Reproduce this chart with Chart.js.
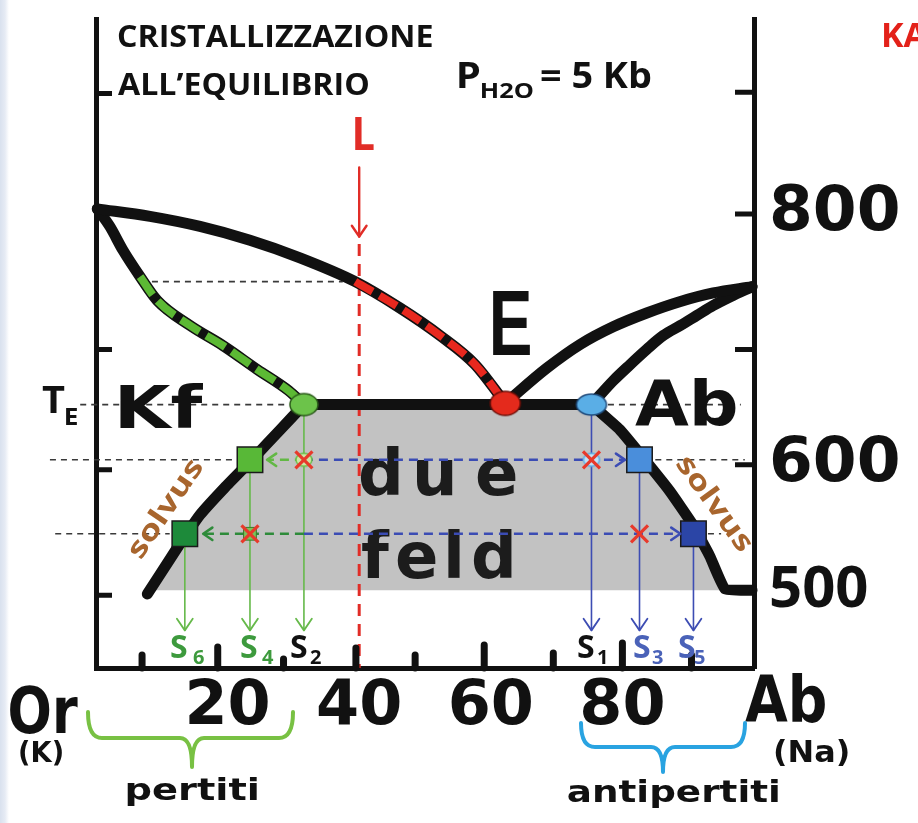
<!DOCTYPE html>
<html lang="it">
<head>
<meta charset="utf-8">
<title>Cristallizzazione all'equilibrio</title>
<script src="https://cdn.jsdelivr.net/npm/chart.js@4.4.1/dist/chart.umd.min.js"></script>
<style>
  html, body { margin: 0; padding: 0; }
  body { width: 918px; height: 823px; overflow: hidden;
         background: linear-gradient(to right, #d9e1ee 0, #e6ebf4 5px, #ffffff 9px); }
  canvas { display: block; }
</style>
</head>
<body>
<canvas id="grafico" width="918" height="823"></canvas>
<script>

const xTicks = [20, 40, 60, 80];
const yTicks = [500, 600, 800];
const leftTicksT = [896, 692, 596, 496];
const rightTicksT = [897, 800, 692, 600, 500];
const bottomTicksX = [7, 18.5, 28.5, 39.5, 48.5, 59, 69.5, 80, 90.5];

// liquidus e solidus
const liqLeftX = [0.2, 8.2, 15.8, 23.4, 31.0, 39.4, 46.2, 52.3, 57.6, 62.2];
const liqLeftT = [804, 798, 790, 779, 765, 746, 725, 703, 680, 649];
const solLeftX = [0.2, 2.1, 4.1, 6.7, 9.3, 14.3, 19.3, 24.5, 29.3, 31.6];
const solLeftT = [804, 790, 771, 750, 731, 711, 695, 676, 659, 648];
const liqRightX = [62.2, 68.5, 73.6, 78.6, 83.7, 88.7, 93.8, 99.7];
const liqRightT = [649, 677, 696, 710, 721, 730, 737, 742];
const solRightX = [75.3, 78.6, 81.2, 83.7, 86.2, 88.8, 91.3, 93.8, 96.4, 99.7];
const solRightT = [648, 667, 680, 692, 703, 711, 719, 727, 734, 742];

// solvus
const solvusLeftX = [31.6, 28.0, 23.9, 19.6, 15.8, 12.0, 7.8];
const solvusLeftT = [648, 628, 605, 582, 560, 531, 497];
const solvusRightX = [75.3, 79.6, 83.4, 87.2, 90.6, 93.3, 95.6, 99.7];
const solvusRightT = [648, 628, 604, 579, 553, 527, 501, 500];

const TE = 648;            // eutettico
const T1 = 604, T2 = 545;  // isoterme
const TL = 746;            // L incontra il liquidus
const xL = 40;
const lineTopT = 776;
const lArrowT = [837, 782];
const floorT = 500;

// S1..S6
const sNames = ['S1', 'S2', 'S3', 'S4', 'S5', 'S6'];
const sX = [75.3, 31.6, 82.6, 23.4, 90.8, 13.5];
const sT = [TE, TE, T1, T1, T2, T2];
const sEndT = 468;
const eX = 62.2, eT = 649;

// frecce orizzontali (partono da S2)
const tipT1 = [26.0, 80.4];
const tipT2 = [16.3, 88.8];

// tratteggi neri
const guideX0 = [8.5, -2.4, 77.8, -7.0, 85.0, -6.2, 93.0];
const guideX1 = [37.5, 29.0, 98.0, 20.8, 98.6, 11.2, 95.0];
const guideT = [TL, TE, TE, T1, T1, T2, T2];

const nero = '#111111';
const rosso = '#e12d27';
const grigio = '#c2c2c2';
const verde = '#66b94a';
const blu = '#3d4db3';

function pts(xs, ts) { return xs.map((x, i) => ({ x: x, y: ts[i] })); }
function atT(xs, ts, t) {
  for (let i = 1; i < ts.length; i++) {
    if ((ts[i - 1] - t) * (ts[i] - t) <= 0) {
      const f = (t - ts[i - 1]) / (ts[i] - ts[i - 1]);
      return xs[i - 1] + f * (xs[i] - xs[i - 1]);
    }
  }
  return xs[xs.length - 1];
}

function linea(data, color, width, extra) {
  return Object.assign({
    data: data, showLine: true, borderColor: color, backgroundColor: color,
    borderWidth: width, pointRadius: 0, tension: 0, clip: false, fill: false,
    borderCapStyle: 'round', borderJoinStyle: 'round'
  }, extra || {});
}

function ovale(w, h, fill, stroke) {
  const c = document.createElement('canvas');
  c.width = w + 4; c.height = h + 4;
  const g = c.getContext('2d');
  g.beginPath();
  g.ellipse(c.width / 2, c.height / 2, w / 2, h / 2, 0, 0, 2 * Math.PI);
  g.fillStyle = fill; g.fill();
  g.lineWidth = 1.5; g.strokeStyle = stroke; g.stroke();
  return c;
}

// campo dei due feldspati (grigio)
const campo = pts(solvusLeftX, solvusLeftT).filter(p => p.y > floorT)
  .concat([{ x: atT(solvusLeftX, solvusLeftT, floorT), y: floorT },
           { x: atT(solvusRightX, solvusRightT, floorT + 1), y: floorT }])
  .concat(pts(solvusRightX, solvusRightT).filter(p => p.y > floorT + 0.5).reverse());

const datasets = [];
datasets.push(linea(campo, grigio, 0, { fill: 'shape', backgroundColor: grigio, order: 20, campo: true }));

guideT.forEach((t, i) => {
  datasets.push(linea([{ x: guideX0[i], y: t }, { x: guideX1[i], y: t }], '#3a3a3a', 1.6,
    { borderDash: [6, 5], borderCapStyle: 'butt', order: 15 }));
});

datasets.push(linea([{ x: xL, y: lineTopT }, { x: xL, y: 438 }], rosso, 3,
  { borderDash: [12, 8], borderCapStyle: 'butt', order: 14 }));

// curve nere spesse
const liscia = { cubicInterpolationMode: 'monotone', order: 12 };
[[liqLeftX, liqLeftT], [solLeftX, solLeftT], [liqRightX, liqRightT], [solRightX, solRightT]].forEach(c => {
  datasets.push(linea(pts(c[0], c[1]), nero, 11, liscia));
});
[[solvusLeftX, solvusLeftT], [solvusRightX, solvusRightT]].forEach(c => {
  datasets.push(linea(pts(c[0], c[1]), nero, 11, { tension: 0.12, order: 12 }));
});
datasets.push(linea([{ x: sX[1], y: TE }, { x: sX[0], y: TE }], nero, 11, { order: 12 }));

// tratti colorati sulle curve
datasets.push(linea(pts(solLeftX, solLeftT).slice(3), '#5cb934', 8,
  { cubicInterpolationMode: 'monotone', borderDash: [22, 8], borderCapStyle: 'butt', order: 11 }));
datasets.push(linea(pts(liqLeftX, liqLeftT).slice(5), '#e8281e', 8,
  { cubicInterpolationMode: 'monotone', borderDash: [20, 8], borderCapStyle: 'butt', order: 11 }));

// frecce verticali verso S1..S6
sX.forEach((x, i) => {
  const col = x < 50 ? verde : blu;
  datasets.push(linea([{ x: x, y: sT[i] }, { x: x, y: sEndT }], col, 1.6, { order: 9, freccia: 14 }));
});

// frecce orizzontali tratteggiate
datasets.push(linea([{ x: sX[1], y: T1 }, { x: tipT1[0], y: T1 }], '#62b844', 2.6, { borderDash: [9, 6], borderCapStyle: 'butt', order: 8, freccia: 11 }));
datasets.push(linea([{ x: sX[1], y: T1 }, { x: tipT1[1], y: T1 }], '#3b4cb4', 2.6, { borderDash: [9, 6], borderCapStyle: 'butt', order: 8, freccia: 11 }));
datasets.push(linea([{ x: sX[1], y: T2 }, { x: tipT2[0], y: T2 }], '#2e8b3a', 2.6, { borderDash: [9, 6], borderCapStyle: 'butt', order: 8, freccia: 11 }));
datasets.push(linea([{ x: sX[1], y: T2 }, { x: tipT2[1], y: T2 }], '#3b4cb4', 2.6, { borderDash: [9, 6], borderCapStyle: 'butt', order: 8, freccia: 11 }));

// freccia rossa di L
datasets.push(linea(pts([xL, xL], lArrowT), rosso, 2.4, { order: 7, freccia: 13 }));

// punti "fantasma" dietro alle X
datasets.push({ data: [{ x: sX[1], y: T1 }, { x: sX[0], y: T1 }, { x: sX[3], y: T2 }], showLine: false, clip: false, order: 5,
  pointStyle: [ovale(16, 13, '#cfe5a6', '#6cbf4a'), ovale(16, 13, '#c4e2f6', '#5aaee6'), 'rect'],
  pointRadius: [8, 8, 9], backgroundColor: '#7cc25a', borderColor: '#3c7a2a', borderWidth: 1 });

// simboli principali
datasets.push({ data: [{ x: sX[1], y: TE }, { x: eX, y: eT }, { x: sX[0], y: TE }], showLine: false, clip: false, order: 4,
  pointStyle: [ovale(28, 22, '#6cc34a', '#2b5a1a'), ovale(30, 24, '#e42a1c', '#6a0e08'), ovale(30, 21, '#5aaee6', '#1f4a7a')],
  pointRadius: 12 });
datasets.push({ data: [{ x: sX[3], y: T1 }, { x: sX[5], y: T2 }, { x: sX[2], y: T1 }, { x: sX[4], y: T2 }], showLine: false, clip: false, order: 4,
  pointStyle: 'rect', pointRadius: 18,
  backgroundColor: ['#58b837', '#1d8a3a', '#4a8edb', '#2b45a6'], borderColor: '#1a1a1a', borderWidth: 1.5 });

// X rosse
datasets.push({ data: [{ x: sX[1], y: T1 }, { x: sX[3], y: T2 }, { x: sX[0], y: T1 }, { x: sX[2], y: T2 }], showLine: false, clip: false, order: 3,
  pointStyle: 'crossRot', pointRadius: 12, borderColor: '#e8392b', borderWidth: 3.2 });

// ---- disegno testi ----
function fit(ctx, s, x0, x1, base, font, color) {
  ctx.save();
  ctx.font = font; ctx.fillStyle = color; ctx.textAlign = 'left'; ctx.textBaseline = 'alphabetic';
  const m = ctx.measureText(s);
  const w = m.actualBoundingBoxLeft + m.actualBoundingBoxRight;
  const k = (x1 - x0) / w;
  ctx.translate(x0 + m.actualBoundingBoxLeft * k, base);
  ctx.scale(k, 1);
  ctx.fillText(s, 0, 0);
  ctx.restore();
}
function ruotato(ctx, s, cx, cy, ang, len, font, color) {
  ctx.save();
  ctx.font = font; ctx.fillStyle = color; ctx.textAlign = 'center'; ctx.textBaseline = 'middle';
  const k = len / ctx.measureText(s).width;
  ctx.translate(cx, cy); ctx.rotate(ang * Math.PI / 180); ctx.scale(k, 1);
  ctx.fillText(s, 0, 0);
  ctx.restore();
}
function spaziato(ctx, s, xs, base, font, color) {
  ctx.save();
  ctx.font = font; ctx.fillStyle = color; ctx.textBaseline = 'alphabetic';
  s.split('').forEach((ch, i) => {
    const m = ctx.measureText(ch);
    ctx.fillText(ch, xs[i] + m.actualBoundingBoxLeft, base);
  });
  ctx.restore();
}
function graffa(ctx, x0, x1, xm, yTop, yLine, yTip, color) {
  ctx.save();
  ctx.strokeStyle = color; ctx.lineWidth = 4; ctx.lineCap = 'round'; ctx.lineJoin = 'round';
  ctx.beginPath();
  ctx.moveTo(x0, yTop);
  ctx.quadraticCurveTo(x0, yLine, x0 + 14, yLine);
  ctx.lineTo(xm - 12, yLine);
  ctx.quadraticCurveTo(xm, yLine, xm, yTip);
  ctx.quadraticCurveTo(xm, yLine, xm + 12, yLine);
  ctx.lineTo(x1 - 14, yLine);
  ctx.quadraticCurveTo(x1, yLine, x1, yTop);
  ctx.stroke();
  ctx.restore();
}

const frecce = {
  id: 'frecce',
  afterDatasetsDraw(chart) {
    const ctx = chart.ctx;
    chart.data.datasets.forEach((ds, i) => {
      if (!ds.freccia) return;
      const p = chart.getDatasetMeta(i).data;
      const a = p[p.length - 1], b = p[p.length - 2];
      const ang = Math.atan2(a.y - b.y, a.x - b.x);
      ctx.save();
      ctx.strokeStyle = ds.borderColor; ctx.lineWidth = Math.max(ds.borderWidth, 1.8);
      ctx.setLineDash([]); ctx.lineCap = 'round';
      ctx.beginPath();
      [-1, 1].forEach(sg => {
        ctx.moveTo(a.x, a.y);
        ctx.lineTo(a.x - ds.freccia * Math.cos(ang + sg * 0.6), a.y - ds.freccia * Math.sin(ang + sg * 0.6));
      });
      ctx.stroke();
      ctx.restore();
    });
  }
};

const bottomTicksH = [13, 21, 9, 20, 13, 23, 15, 25, 13];
const tacche = {
  id: 'tacche',
  afterDraw(chart) {
    const { ctx, chartArea: a, scales: { x, y } } = chart;
    ctx.save();
    ctx.strokeStyle = nero; ctx.lineWidth = 5; ctx.lineCap = 'butt';
    ctx.beginPath();
    leftTicksT.forEach(t => { const py = y.getPixelForValue(t); ctx.moveTo(a.left, py); ctx.lineTo(a.left + 16, py); });
    rightTicksT.forEach(t => { const py = y.getPixelForValue(t); ctx.moveTo(a.right, py); ctx.lineTo(a.right - 19, py); });
    ctx.stroke();
    ctx.lineWidth = 7; ctx.lineCap = 'round';
    ctx.beginPath();
    bottomTicksX.forEach((v, i) => { const px = x.getPixelForValue(v); ctx.moveTo(px, a.bottom); ctx.lineTo(px, a.bottom - bottomTicksH[i]); });
    ctx.stroke();
    ctx.restore();
  }
};

const testi = {
  id: 'testi',
  afterDatasetDraw(chart, args) {
    if (!chart.data.datasets[args.index].campo) return;
    const ctx = chart.ctx;
    spaziato(ctx, 'due', [360, 417, 477], 495, 'bold 64px "DejaVu Sans"', '#1c1c1c');
    spaziato(ctx, 'feld', [362, 397, 448, 473], 578, 'bold 64px "DejaVu Sans"', '#1c1c1c');
  },
  afterDraw(chart) {
    const ctx = chart.ctx;
    fit(ctx, 'CRISTALLIZZAZIONE', 118, 432, 47, 'bold 31px "Open Sans"', nero);
    fit(ctx, 'ALL\u2019EQUILIBRIO', 118, 368, 95, 'bold 31px "Open Sans"', nero);
    fit(ctx, 'P', 459, 479, 88, 'bold 36px "Open Sans"', nero);
    fit(ctx, 'H2O', 481, 533, 98, 'bold 21px "Open Sans"', nero);
    fit(ctx, '= 5 Kb', 541, 651, 88, 'bold 36px "Open Sans"', nero);
    ctx.save(); ctx.font = 'bold 34px "Open Sans"'; ctx.fillStyle = '#e32119'; ctx.fillText('KA', 881, 47); ctx.restore();
    fit(ctx, 'L', 355, 374, 150, 'bold 46px "Open Sans"', rosso);
    fit(ctx, 'E', 493, 530, 355, 'bold 92px "Liberation Sans"', nero);
    fit(ctx, 'Kf', 120, 204, 428, 'bold 59px "DejaVu Sans"', nero);
    fit(ctx, 'Ab', 635, 736, 425, 'bold 62px "DejaVu Sans"', nero);
    fit(ctx, 'T', 42, 65, 413, 'bold 38px "Open Sans"', nero);
    fit(ctx, 'E', 66, 78, 425, 'bold 24px "Open Sans"', nero);
    ruotato(ctx, 'solvus', 166, 509, -56, 114, 'bold 28px "Open Sans"', '#a8652d');
    ruotato(ctx, 'solvus', 714, 504, 54, 112, 'bold 28px "Open Sans"', '#a8652d');

    // S1..S6
    const sCol = { S1: nero, S2: nero, S3: '#4a62b8', S4: '#3d9a3d', S5: '#4a62b8', S6: '#3d9a3d' };
    const sPos = { S6: [170, 193], S4: [240, 262], S2: [290, 310], S1: [577, 597], S3: [633, 652], S5: [678, 694] };
    sNames.forEach(n => {
      const p = sPos[n];
      ctx.save(); ctx.fillStyle = sCol[n];
      ctx.font = 'bold 32px "Open Sans"'; ctx.fillText('S', p[0], 658);
      ctx.font = 'bold 20px "Open Sans"'; ctx.fillText(n.slice(1), p[1], 664);
      ctx.restore();
    });

    fit(ctx, 'Or', 10, 78, 733, 'bold 64px "DejaVu Sans"', nero);
    fit(ctx, '(K)', 20, 62, 762, 'bold 29px "DejaVu Sans"', nero);
    fit(ctx, 'Ab', 745, 825, 722, 'bold 64px "DejaVu Sans"', nero);
    fit(ctx, '(Na)', 775, 848, 762, 'bold 31px "DejaVu Sans"', nero);
    graffa(ctx, 88, 293, 192, 712, 738, 767, '#78c143');
    graffa(ctx, 581, 745, 663, 723, 747, 772, '#29a3e1');
    fit(ctx, 'pertiti', 127, 257, 800, 'bold 30px "DejaVu Sans"', nero);
    fit(ctx, 'antipertiti', 568, 778, 802, 'bold 30px "DejaVu Sans"', nero);
  }
};

const tickFont = { family: 'DejaVu Sans', size: 62, weight: 'bold' };
function noPad(s) { s.paddingTop = 0; s.paddingBottom = 0; s.paddingLeft = 0; s.paddingRight = 0; }

new Chart(document.getElementById('grafico'), {
  type: 'scatter',
  data: { datasets: datasets },
  plugins: [frecce, tacche, testi],
  options: {
    responsive: false,
    animation: false,
    devicePixelRatio: 1,
    events: [],
    layout: { padding: { left: 96, top: 14, right: 0, bottom: 0 } },
    plugins: { legend: { display: false }, tooltip: { enabled: false } },
    scales: {
      x: {
        type: 'linear', min: 0, max: 100, position: 'bottom',
        afterBuildTicks: s => { s.ticks = xTicks.map(v => ({ value: v })); },
        afterFit: s => { s.height = 155; noPad(s); },
        grid: { display: false, drawTicks: false },
        border: { display: true, color: nero, width: 5 },
        ticks: { padding: 3, color: nero, font: tickFont, maxRotation: 0, autoSkip: false }
      },
      y: {
        type: 'linear', min: 438, max: 955, position: 'right',
        afterBuildTicks: s => { s.ticks = yTicks.map(v => ({ value: v })); },
        afterFit: s => { s.width = 164; noPad(s); },
        grid: { display: false, drawTicks: false },
        border: { display: true, color: nero, width: 5 },
        ticks: {
          padding: 15, color: nero, autoSkip: false,
          font: c => (c.tick && c.tick.value === 500)
            ? { family: 'Open Sans', size: 58, weight: 'bold' }
            : { family: 'DejaVu Sans', size: 63, weight: 'bold' }
        }
      },
      yL: {
        type: 'linear', min: 438, max: 955, position: 'left',
        afterFit: s => { s.width = 0; noPad(s); },
        grid: { display: false, drawTicks: false },
        border: { display: true, color: nero, width: 5 },
        ticks: { display: false }
      }
    }
  }
});
</script>
</body>
</html>
